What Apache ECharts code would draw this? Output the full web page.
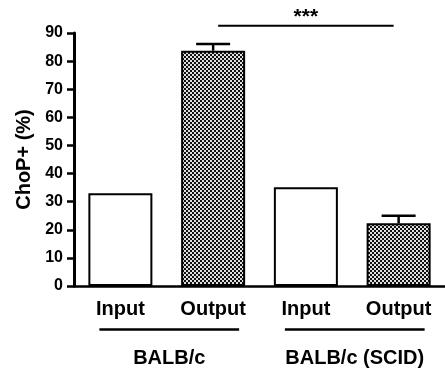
<!DOCTYPE html>
<html>
<head>
<meta charset="utf-8">
<script src="https://cdn.jsdelivr.net/npm/echarts@6/dist/echarts.min.js"></script>
<style>
  html, body { margin: 0; padding: 0; background: #fff; }
  #chart { width: 445px; height: 373px; }
</style>
</head>
<body>
<div id="chart"></div>
<script>
// data
var categories = ['Input', 'Output', 'Input', 'Output']
var values = [33.0, 83.7, 35.1, 22.3]
var errors = [0, 2.4, 0, 2.7]
var hatched = [false, true, false, true]
var groupNames = ['BALB/c', 'BALB/c (SCID)']
var groupSpans = [[0, 1], [2, 3]]
var sigPair = [1, 3]
var sigLevel = 92.6
var sigText = '***'
var yTicks = [0, 10, 20, 30, 40, 50, 60, 70, 80, 90]

var FONT = 'Liberation Sans, Arial, sans-serif'

// checkerboard fill for the output bars
function makePattern() {
  var c = document.createElement('canvas')
  c.width = 4
  c.height = 4
  var ctx = c.getContext('2d')
  ctx.fillStyle = '#e0e0e0'
  ctx.fillRect(0, 0, 4, 4)
  ctx.fillStyle = '#111'
  ctx.fillRect(0, 0, 2, 2)
  ctx.fillRect(2, 2, 2, 2)
  return c
}
var pattern = { image: makePattern(), repeat: 'repeat' }

var chart = echarts.init(document.getElementById('chart'))

var barData = values.map(function (v, i) {
  return {
    value: v,
    itemStyle: {
      color: hatched[i] ? pattern : '#fff',
      borderColor: '#000',
      borderWidth: 2
    }
  }
})

var errData = values.map(function (v, i) { return [i, v, errors[i]] })
  .filter(function (d) { return d[2] > 0 })

chart.setOption({
  animation: false,
  grid: { left: 74, top: 33, width: 381, height: 253 },
  xAxis: {
    type: 'category',
    data: categories,
    axisLine: { lineStyle: { color: '#000', width: 2.5 } },
    axisTick: { alignWithLabel: true, length: 6, lineStyle: { color: '#000', width: 2.5 } },
    axisLabel: { color: '#000', fontSize: 20, fontWeight: 'bold', fontFamily: FONT, margin: 13 }
  },
  yAxis: {
    type: 'value',
    min: yTicks[0],
    max: yTicks[yTicks.length - 1],
    interval: 10,
    name: 'ChoP+ (%)',
    nameLocation: 'middle',
    nameRotate: 90,
    nameGap: 35,
    nameTextStyle: { color: '#000', fontSize: 20, fontWeight: 'bold', fontFamily: FONT },
    axisLine: { show: true, lineStyle: { color: '#000', width: 3 } },
    axisTick: { show: true, length: 7, lineStyle: { color: '#000', width: 2.5 } },
    axisLabel: { color: '#000', fontSize: 16, fontWeight: 'bold', fontFamily: FONT, margin: 11 },
    splitLine: { show: false }
  },
  series: [
    {
      type: 'bar',
      data: barData,
      barWidth: 64
    },
    {
      // error bars, upper side only
      type: 'custom',
      data: errData,
      z: 1,
      renderItem: function (params, api) {
        var x = api.value(0)
        var base = api.coord([x, api.value(1)])
        var top = api.coord([x, api.value(1) + api.value(2)])
        return {
          type: 'group',
          children: [
            { type: 'line', shape: { x1: base[0], y1: base[1], x2: top[0], y2: top[1] }, style: { stroke: '#000', lineWidth: 2.5 } },
            { type: 'line', shape: { x1: top[0] - 17, y1: top[1], x2: top[0] + 17, y2: top[1] }, style: { stroke: '#000', lineWidth: 2.5 } }
          ]
        }
      }
    },
    {
      // significance bracket
      type: 'custom',
      data: [[sigPair[0], sigPair[1], sigLevel]],
      clip: false,
      renderItem: function (params, api) {
        var a = api.coord([api.value(0), api.value(2)])
        var b = api.coord([api.value(1), api.value(2)])
        return {
          type: 'group',
          children: [
            { type: 'line', shape: { x1: a[0] + 5, y1: a[1], x2: b[0] - 5, y2: b[1] }, style: { stroke: '#000', lineWidth: 2 } },
            { type: 'text', x: (a[0] + b[0]) / 2, y: a[1] - 8, style: { text: sigText, fill: '#000', font: 'bold 21px ' + FONT, align: 'center', verticalAlign: 'middle' } }
          ]
        }
      }
    },
    {
      // group underlines and names
      type: 'custom',
      data: groupSpans.map(function (s, i) { return [s[0], s[1], i] }),
      clip: false,
      renderItem: function (params, api) {
        var a = api.coord([api.value(0), 0])
        var b = api.coord([api.value(1), 0])
        var x1 = a[0] - 21
        var x2 = b[0] + 26
        var y = a[1] + 43.5
        return {
          type: 'group',
          children: [
            { type: 'line', shape: { x1: x1, y1: y, x2: x2, y2: y }, style: { stroke: '#000', lineWidth: 2.5 } },
            { type: 'text', x: (x1 + x2) / 2, y: y + 29, style: { text: groupNames[api.value(2)], fill: '#000', font: 'bold 20px ' + FONT, align: 'center', verticalAlign: 'middle' } }
          ]
        }
      }
    }
  ]
})
</script>
</body>
</html>
